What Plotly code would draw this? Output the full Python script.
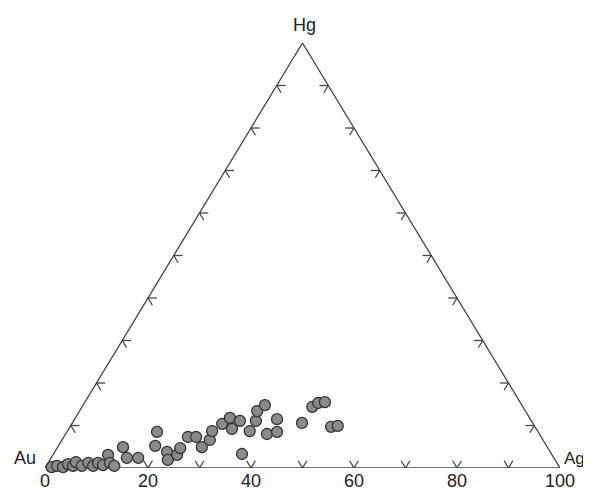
import plotly.graph_objects as go

# Composition data (wt.%)
ag = [1.2, 2.1, 3.4, 4.0, 5.2, 5.3, 6.9, 7.8, 9.1, 9.7, 10.9, 10.7, 12.0, 13.2,
      12.7, 14.7, 16.9, 17.5, 18.8, 21.8, 22.9, 24.1, 23.9, 24.1, 25.7, 28.0,
      28.7, 28.1, 29.2, 30.0, 31.7, 32.3, 36.6, 35.4, 35.4, 34.5, 35.3, 39.1,
      39.3, 40.8, 44.6, 44.7, 45.4, 46.6, 50.7, 51.9]
hg = [0.2, 0.5, 0.2, 0.9, 0.5, 1.4, 0.5, 1.2, 0.5, 1.2, 0.7, 3.1, 1.2, 0.5,
      4.9, 2.4, 2.4, 8.5, 5.2, 3.8, 1.9, 3.1, 4.7, 7.3, 7.3, 4.9,
      6.6, 8.7, 10.4, 11.8, 9.2, 11.1, 3.3, 8.7, 11.1, 13.4, 14.8, 8.0,
      11.5, 8.5, 10.6, 14.4, 15.3, 15.5, 9.7, 9.9]
au = [round(100 - a - h, 1) for a, h in zip(ag, hg)]

tick_vals = [0, 20, 40, 60, 80, 100]
tick_text = ["0", "20", "40", "60", "80", "100"]
minor_ticks = [10, 20, 30, 40, 50, 60, 70, 80, 90]
vertex_names = ["Au", "Ag", "Hg"]


def to_xy(a, h):
    """Ternary (Ag, Hg) -> cartesian (x along base, y = Hg)."""
    return a + h / 2.0, h


# triangle outline
tri = [to_xy(0, 0), to_xy(100, 0), to_xy(0, 100), to_xy(0, 0)]

# tick stubs along the grid directions
L = 1.7
sx, sy = [], []
def seg(p, q):
    x0, y0 = to_xy(*p)
    x1, y1 = to_xy(*q)
    sx.extend([x0, x1, None])
    sy.extend([y0, y1, None])

for t in minor_ticks:
    # bottom edge (Hg = 0), Ag = t
    seg((t, 0), (t, L))
    seg((t, 0), (t - L, L))
    # left edge (Ag = 0), Hg = t
    seg((0, t), (L, t))
    seg((0, t), (L, t - L))
    # right edge (Au = 0), Hg = t
    seg((100 - t, t), (100 - t - L, t))
    seg((100 - t, t), (100 - t, t - L))

line_col = "#444444"
fig = go.Figure()
fig.add_trace(go.Scatter(x=[p[0] for p in tri], y=[p[1] for p in tri],
                         mode="lines", line=dict(color=line_col, width=1.3),
                         hoverinfo="skip", cliponaxis=False))
fig.add_trace(go.Scatter(x=sx, y=sy, mode="lines",
                         line=dict(color=line_col, width=1.3),
                         hoverinfo="skip", cliponaxis=False))
px = [to_xy(a, h) for a, h in zip(ag, hg)]
fig.add_trace(go.Scatter(x=[p[0] for p in px], y=[p[1] for p in px],
                         mode="markers", cliponaxis=False,
                         customdata=list(zip(au, ag, hg)),
                         hovertemplate="Au %{customdata[0]}<br>Ag %{customdata[1]}<br>Hg %{customdata[2]}<extra></extra>",
                         marker=dict(size=11, color="#8a8a8a",
                                     line=dict(color="#333333", width=1.3))))

font = dict(family="Liberation Sans, Arial, sans-serif", size=18, color="#222222")
font_ag = dict(family="Liberation Sans, Arial, sans-serif", size=17, color="#222222")
fig.add_annotation(x=0, y=0, text=vertex_names[0], showarrow=False,
                   xanchor="right", yanchor="middle", xshift=-7, yshift=10, font=font)
fig.add_annotation(x=100, y=0, text=vertex_names[1], showarrow=False,
                   xanchor="left", yanchor="middle", xshift=2, yshift=10, font=font_ag)
fig.add_annotation(x=50, y=100, text=vertex_names[2], showarrow=False,
                   xanchor="center", yanchor="middle", xshift=2, yshift=18, font=font)

# The page body has an 8px margin, so the figure is drawn 8px smaller and offset.
fig.update_layout(
    width=583, height=482,
    margin=dict(l=37, r=31, t=35, b=22, autoexpand=False),
    paper_bgcolor="white", plot_bgcolor="white",
    showlegend=False,
    xaxis=dict(range=[0, 100], tickvals=tick_vals, ticktext=tick_text,
               showgrid=False, zeroline=False, showline=False, ticks="",
               tickfont=font, ticklabelstandoff=0, fixedrange=True,
               automargin=False),
    yaxis=dict(range=[0, 100], visible=False, fixedrange=True, automargin=False),
)
fig.write_html("out.html")
